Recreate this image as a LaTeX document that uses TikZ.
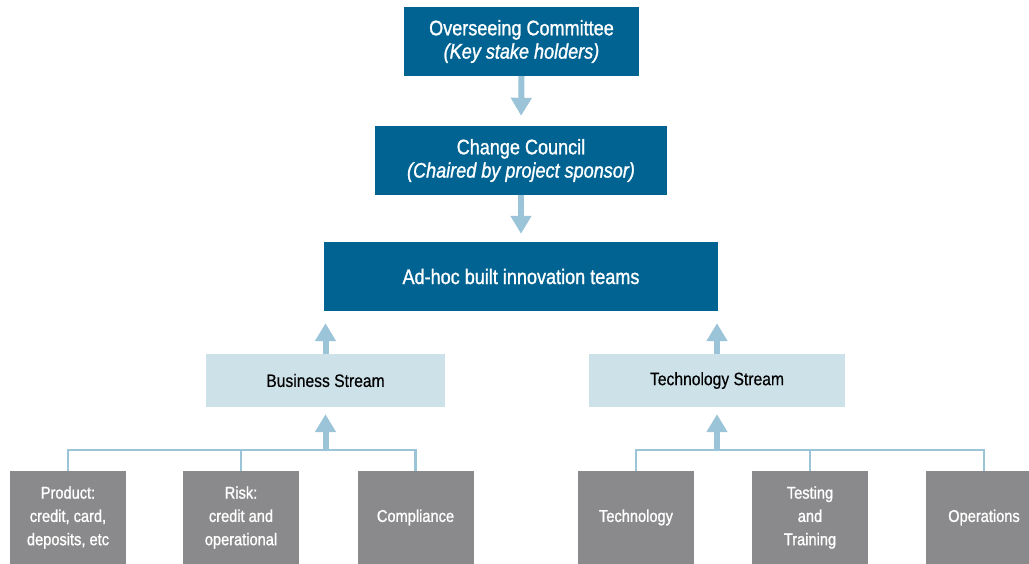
\documentclass[tikz,border=0pt]{standalone}
\usepackage{fontspec}
\setmainfont[FakeStretch=0.88]{Liberation Sans}
\newfontfamily\heavy[FakeStretch=0.86,FakeBold=1.2]{Liberation Sans}
\newfontfamily\medium[FakeStretch=0.87,FakeBold=0.5]{Liberation Sans}
\usetikzlibrary{arrows.meta}
\definecolor{darkblue}{RGB}{0,99,145}
\definecolor{paleblue}{RGB}{205,225,233}
\definecolor{arrowblue}{RGB}{155,196,216}
\definecolor{unitgray}{RGB}{138,138,140}
\begin{document}
\begin{tikzpicture}[x=1pt,y=-1pt,
    head/.style={fill=darkblue,text=white,inner sep=0pt,align=center,minimum height=69pt,font=\heavy\fontsize{21}{23.3}\selectfont},
    stream/.style={fill=paleblue,text=black,inner sep=0pt,minimum height=53pt,font=\medium\fontsize{18}{20}\selectfont},
    unit/.style={fill=unitgray,text=white,inner sep=0pt,align=center,minimum width=116pt,minimum height=93pt,font=\heavy\fontsize{17}{23.3}\selectfont},
    flow/.style={arrowblue,line width=6pt,-{Triangle[width=20pt,length=18pt]}},
    link/.style={arrowblue,line width=2.5pt}]
      \useasboundingbox (0,0) rectangle (1029,564) ;
      \node[head,minimum width=235pt] (oc) at (521.5,41.5) {Overseeing Committee\\\textit{(Key stake holders)}} ;
      \node[head,minimum width=292pt] (cc) at (521,160.5) {Change Council\\\textit{(Chaired by project sponsor)}} ;
      \node[head,minimum width=394pt] (ah) at (521,276.5) {Ad-hoc built innovation teams} ;
      \node[stream,minimum width=239pt] (bs) at (325.5,380.5) {Business Stream} ;
      \node[stream,minimum width=256pt] (ts) at (717,380.5) {Technology Stream} ;
      \node[unit] (prod) at (68,517.5) {Product:\\credit, card,\\deposits, etc} ;
      \node[unit] (risk) at (241,517.5) {Risk:\\credit and\\operational} ;
      \node[unit] (comp) at (415.5,517.5) {Compliance} ;
      \node[unit] (tech) at (636,517.5) {Technology} ;
      \node[unit] (test) at (810,517.5) {Testing\\and\\Training} ;
      \node[unit] (ops) at (984,517.5) {Operations} ;
      \coordinate (bj) at (325.5,450) ;
      \coordinate (tj) at (717,450) ;
      \draw[flow,shorten >=10pt] (oc.south) -- (cc.north) ;
      \draw[flow,shorten >=8pt] (cc.south) -- (ah.north) ;
      \draw[flow,shorten >=12pt] (bs.north) -- (bs.north |- ah.south) ;
      \draw[flow,shorten >=12pt] (ts.north) -- (ts.north |- ah.south) ;
      \draw[link] (prod.north) -- (prod.north |- bj) -- (comp.north |- bj) -- (comp.north) ;
      \draw[link] (risk.north) -- (risk.north |- bj) ;
      \draw[link] (tech.north) -- (tech.north |- tj) -- (ops.north |- tj) -- (ops.north) ;
      \draw[link] (test.north) -- (test.north |- tj) ;
      \draw[flow,shorten >=7pt] (bj) -- (bs.south) ;
      \draw[flow,shorten >=7pt] (tj) -- (ts.south) ;
    \end{tikzpicture}
\end{document}
